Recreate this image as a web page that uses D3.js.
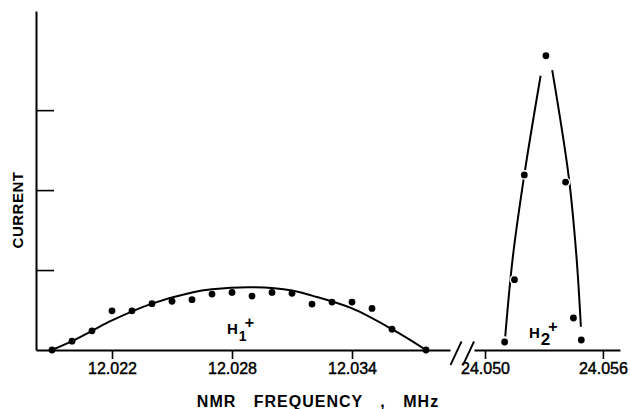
<!DOCTYPE html>
<html>
<head>
<meta charset="utf-8">
<script src="https://cdn.jsdelivr.net/npm/d3@7"></script>
<style>
  html, body { margin: 0; padding: 0; background: #fff; }
  svg { display: block; }
</style>
</head>
<body>
<svg id="chart" width="630" height="409"></svg>
<script>
// ---- data ----
const h1Freq = [12.019, 12.020, 12.021, 12.022, 12.023, 12.024, 12.025, 12.026, 12.027, 12.028,
                12.029, 12.030, 12.031, 12.032, 12.033, 12.034, 12.035, 12.036, 12.0377];
const h1Current = [0, 0.11, 0.24, 0.49, 0.49, 0.58, 0.61, 0.63, 0.70, 0.72,
                   0.675, 0.72, 0.71, 0.575, 0.60, 0.60, 0.52, 0.26, 0];
const h1FitFreq = [12.019, 12.020, 12.021, 12.022, 12.024, 12.026, 12.027, 12.029, 12.031,
                   12.032, 12.034, 12.036, 12.0377];
const h1FitCurrent = [0, 0.11, 0.24, 0.37, 0.58, 0.72, 0.76, 0.785, 0.745,
                      0.68, 0.52, 0.26, 0];

const h2Freq = [24.0510, 24.0515, 24.0520, 24.0531, 24.0541, 24.0545, 24.0549];
const h2Current = [0.10, 0.88, 2.19, 3.68, 2.10, 0.40, 0.125];
const h2FitLeftFreq = [24.05103, 24.05141, 24.0520, 24.05283];
const h2FitLeftCurrent = [0.17, 1.15, 2.19, 3.43];
const h2FitRightFreq = [24.05342, 24.05427, 24.05466, 24.05488];
const h2FitRightCurrent = [3.50, 2.15, 1.15, 0.29];

const leftTicks = [12.022, 12.028, 12.034];
const rightTicks = [24.050, 24.056];
const yTicks = [1, 2, 3];
const yLabel = "CURRENT";
const xLabel = "NMR FREQUENCY , MHz";

// ---- scales ----
const svg = d3.select("#chart");
const ink = "#000";
const font = "'Liberation Sans', Arial, sans-serif";

const y = d3.scaleLinear().domain([0, 4.24]).range([350, 11]);
const xL = d3.scaleLinear().domain([12.0182, 12.0389]).range([36, 450]);
const xR = d3.scaleLinear().domain([24.04944, 24.05687]).range([474, 620]);

// ---- axes ----
const fmt = d3.format(".3f");
function styleAxis(g) {
  g.selectAll("path.domain").attr("stroke", ink).attr("stroke-width", 2);
  g.selectAll(".tick line").attr("stroke", ink).attr("stroke-width", 1.6);
  g.selectAll(".tick text")
    .attr("fill", ink)
    .attr("stroke", ink).attr("stroke-width", 0.45)
    .style("font-family", font)
    .style("font-size", "16px");
}

svg.append("g")
  .attr("transform", `translate(0,${y(0)})`)
  .call(d3.axisBottom(xL).tickValues(leftTicks).tickFormat(fmt).tickSize(9).tickSizeOuter(0).tickPadding(4))
  .call(styleAxis);

svg.append("g")
  .attr("transform", `translate(0,${y(0)})`)
  .call(d3.axisBottom(xR).tickValues(rightTicks).tickFormat(fmt).tickSize(9).tickSizeOuter(0).tickPadding(4))
  .call(styleAxis);

svg.append("g")
  .attr("transform", `translate(${xL.range()[0]},0)`)
  .call(d3.axisLeft(y).tickValues(yTicks).tickFormat("").tickSize(-18).tickSizeOuter(0))
  .call(styleAxis);

// axis break marks
const bx = xL.range()[1];
const by = y(0);
[0, 12.5].forEach(off => {
  svg.append("line")
    .attr("x1", bx + off + 0.5).attr("y1", by + 15)
    .attr("x2", bx + off + 11.5).attr("y2", by - 8.5)
    .attr("stroke", ink).attr("stroke-width", 1.8);
});

// ---- curves ----
const lineL = d3.line().x(d => xL(d[0])).y(d => y(d[1])).curve(d3.curveCatmullRom.alpha(0.5));
const lineR = d3.line().x(d => xR(d[0])).y(d => y(d[1])).curve(d3.curveCatmullRom.alpha(0.5));

svg.append("path")
  .datum(d3.zip(h1FitFreq, h1FitCurrent))
  .attr("d", lineL)
  .attr("fill", "none").attr("stroke", ink).attr("stroke-width", 2);

svg.append("path")
  .datum(d3.zip(h2FitLeftFreq, h2FitLeftCurrent))
  .attr("d", lineR)
  .attr("fill", "none").attr("stroke", ink).attr("stroke-width", 2);

svg.append("path")
  .datum(d3.zip(h2FitRightFreq, h2FitRightCurrent))
  .attr("d", lineR)
  .attr("fill", "none").attr("stroke", ink).attr("stroke-width", 2);

// ---- points ----
svg.append("g").selectAll("circle")
  .data(d3.zip(h1Freq, h1Current))
  .join("circle")
  .attr("cx", d => xL(d[0])).attr("cy", d => y(d[1]))
  .attr("r", 3.4).attr("fill", ink);

svg.append("g").selectAll("circle")
  .data(d3.zip(h2Freq, h2Current))
  .join("circle")
  .attr("cx", d => xR(d[0])).attr("cy", d => y(d[1]))
  .attr("r", 3.4).attr("fill", ink)
  .attr("stroke", "#fff").attr("stroke-width", 3)
  .attr("paint-order", "stroke");

// ---- labels ----
svg.append("text")
  .attr("transform", "translate(23,210) rotate(-90)")
  .attr("text-anchor", "middle")
  .style("font-family", font).style("font-size", "15px").style("font-weight", "bold")
  .style("letter-spacing", "0.5px")
  .attr("fill", ink)
  .text(yLabel);

svg.append("text")
  .attr("x", 318).attr("y", 407)
  .attr("text-anchor", "middle")
  .style("font-family", font).style("font-size", "16px").style("font-weight", "bold")
  .style("letter-spacing", "1px").style("word-spacing", "12px")
  .attr("fill", ink)
  .text(xLabel);

function ionLabel(x0, yBase, sub, subDy, subSize) {
  const t = svg.append("text")
    .attr("x", x0).attr("y", yBase)
    .style("font-family", font).style("font-size", "15px").style("font-weight", "bold")
    .attr("fill", ink);
  t.append("tspan").text("H");
  t.append("tspan").attr("dx", 1).attr("dy", subDy).style("font-size", subSize).text(sub);
  t.append("tspan").attr("dx", -2).attr("dy", -subDy - 6).style("font-size", "16px").text("+");
}
ionLabel(227, 334, "1", 7, "14px");
ionLabel(529, 338, "2", 7, "17px");
</script>
</body>
</html>
